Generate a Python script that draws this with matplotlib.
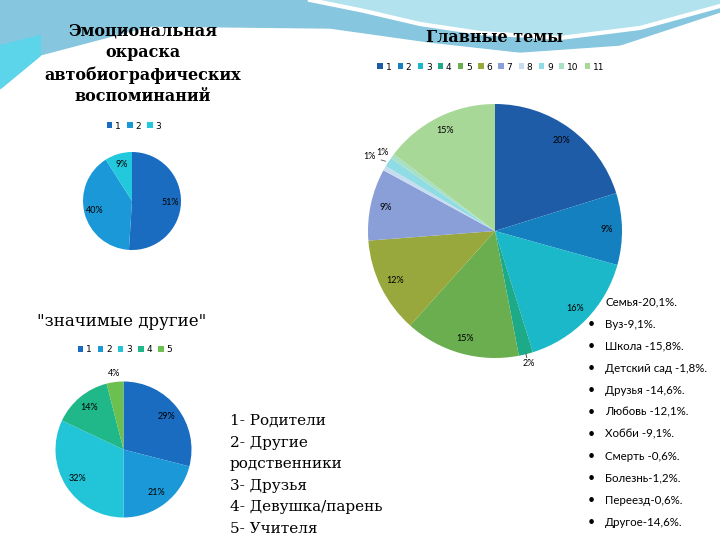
import matplotlib
matplotlib.use('Agg')
import matplotlib.pyplot as plt
import numpy as np

# Data
emo_labels = ['1', '2', '3']
emo_values = [51, 40, 9]
emo_colors = ['#1a6cc0', '#1a98d8', '#22c8dc']

theme_labels = ['1', '2', '3', '4', '5', '6', '7', '8', '9', '10', '11']
theme_values = [20.1, 9.1, 15.8, 1.8, 14.6, 12.1, 9.1, 0.6, 1.2, 0.6, 14.6]
theme_colors = ['#1f5ca8', '#1580c0', '#1ab8c8', '#1daa88', '#6aae50', '#98a83c',
                '#8a9ed8', '#c8dcf0', '#90dce4', '#a8e0c4', '#a8d898']
theme_names = ['Семья-20,1%.', 'Вуз-9,1%.', 'Школа -15,8%.', 'Детский сад -1,8%.',
               'Друзья -14,6%.', 'Любовь -12,1%.', 'Хобби -9,1%.', 'Смерть -0,6%.',
               'Болезнь-1,2%.', 'Переезд-0,6%.', 'Другое-14,6%.']

other_labels = ['1', '2', '3', '4', '5']
other_values = [29, 21, 32, 14, 4]
other_colors = ['#1a6cc0', '#1a98d8', '#22c4d8', '#20b888', '#6cc050']
other_names = ['1- Родители', '2- Другие', 'родственники', '3- Друзья',
               '4- Девушка/парень', '5- Учителя']

W, H = 720, 540
fig = plt.figure(figsize=(7.2, 5.4), dpi=100)
fig.patch.set_facecolor('white')

# background waves at the top
bg = fig.add_axes([0, 0, 1, 1], zorder=-10)
bg.set_xlim(0, W)
bg.set_ylim(H, 0)
bg.axis('off')
bx = np.linspace(0, W, 200)
low = np.interp(bx, [0, 40, 150, 330, 430, 520, 620, 720], [88, 55, 26, 28, 42, 52, 45, 12])
bg.fill_between(bx, 0, low, color='#86c6de')
hx = np.linspace(310, W, 150)
hi = np.interp(hx, [310, 360, 420, 480, 560, 640, 720], [0, 10, 24, 33, 38, 28, 6])
bg.fill_between(hx, 0, hi, color='#b2e2ee')
bg.plot(hx, hi, color='white', lw=3)
cx_ = bx[bx < 40]
bg.fill_between(cx_, np.interp(cx_, [0, 40], [45, 35]), low[bx < 40], color='#5cd4ea')

sans = ['Lato', 'DejaVu Sans']
pct_font = dict(fontsize=6.5, family=sans)


def pie_axes(cx, cy, r):
    return fig.add_axes([(cx - r) / W, (H - cy - r) / H, 2 * r / W, 2 * r / H])


# Emotional colouring pie
ax1 = pie_axes(132, 201, 49)
w1, t1, p1 = ax1.pie(emo_values, colors=emo_colors, startangle=90, counterclock=False,
                     autopct='%1.0f%%', pctdistance=0.78, textprops=pct_font)
ax1.set_xlim(-1, 1)
ax1.set_ylim(-1, 1)
fig.text(143 / W, 1 - 64 / H, 'Эмоциональная\nокраска\nавтобиографических\nвоспоминаний',
         ha='center', va='center', fontsize=11.5, fontweight='bold', family='DejaVu Serif',
         linespacing=1.35)
fig.legend(w1, emo_labels, loc='center', bbox_to_anchor=(134 / W, 1 - 126 / H), ncol=3,
           frameon=False, fontsize=6.5, handlelength=0.6, handleheight=0.6,
           columnspacing=0.7, handletextpad=0.3)

# Main themes pie
ax2 = pie_axes(495, 231, 127)
w2, t2, p2 = ax2.pie(theme_values, colors=theme_colors, startangle=90, counterclock=False,
                     autopct='%1.0f%%', pctdistance=0.88, textprops=pct_font)
ax2.set_xlim(-1, 1)
ax2.set_ylim(-1, 1)
for i in [3, 7, 8, 9]:
    w = w2[i]
    a = np.deg2rad((w.theta1 + w.theta2) / 2)
    if i == 3:
        p2[i].set_position((1.1 * np.cos(a), 1.1 * np.sin(a) + 0.02))
        ax2.plot([np.cos(a), 1.04 * np.cos(a)], [np.sin(a), 1.04 * np.sin(a)], color='#333333', lw=0.6)
    elif i == 7:
        p2[i].set_text('')
    elif i == 8:
        p2[i].set_text('')
        ax2.annotate('1%', xy=(np.cos(a), np.sin(a)), xytext=(1.13 * np.cos(a) - 0.04, 1.08 * np.sin(a)),
                     ha='center', va='center', annotation_clip=False,
                     arrowprops=dict(arrowstyle='-', color='#555555', lw=0.6), **pct_font)
    else:
        p2[i].set_position((1.1 * np.cos(a), 1.1 * np.sin(a) - 0.03))
fig.text(495 / W, 1 - 38 / H, 'Главные темы', ha='center', va='center', fontsize=11.5,
         fontweight='bold', family='DejaVu Serif')
fig.legend(w2, theme_labels, loc='center', bbox_to_anchor=(491 / W, 1 - 67 / H), ncol=11,
           frameon=False, fontsize=6.5, handlelength=0.6, handleheight=0.6,
           columnspacing=0.7, handletextpad=0.3)

# list of themes
for k, name in enumerate(theme_names):
    y = 1 - (302 + k * 22) / H
    fig.text(605 / W, y, name, ha='left', va='center', fontsize=8.3, family=sans)
    if k > 0:
        fig.text(591 / W, y, '•', ha='center', va='center', fontsize=9, family=sans)

# Significant others pie
ax3 = pie_axes(123.5, 449.5, 68)
w3, t3, p3 = ax3.pie(other_values, colors=other_colors, startangle=90, counterclock=False,
                     autopct='%1.0f%%', pctdistance=0.8, textprops=pct_font)
ax3.set_xlim(-1, 1)
ax3.set_ylim(-1, 1)
a = np.deg2rad((w3[4].theta1 + w3[4].theta2) / 2)
p3[4].set_position((1.12 * np.cos(a), 1.12 * np.sin(a)))
fig.text(122 / W, 1 - 322 / H, '"значимые другие"', ha='center', va='center', fontsize=12,
         family='DejaVu Serif')
fig.legend(w3, other_labels, loc='center', bbox_to_anchor=(125 / W, 1 - 350 / H), ncol=5,
           frameon=False, fontsize=6.5, handlelength=0.6, handleheight=0.6,
           columnspacing=0.7, handletextpad=0.3)

for k, line in enumerate(other_names):
    fig.text(230 / W, 1 - (421 + k * 21.6) / H, line, ha='left', va='center', fontsize=11,
             family='DejaVu Serif')

fig.savefig('out.png', dpi=100)
